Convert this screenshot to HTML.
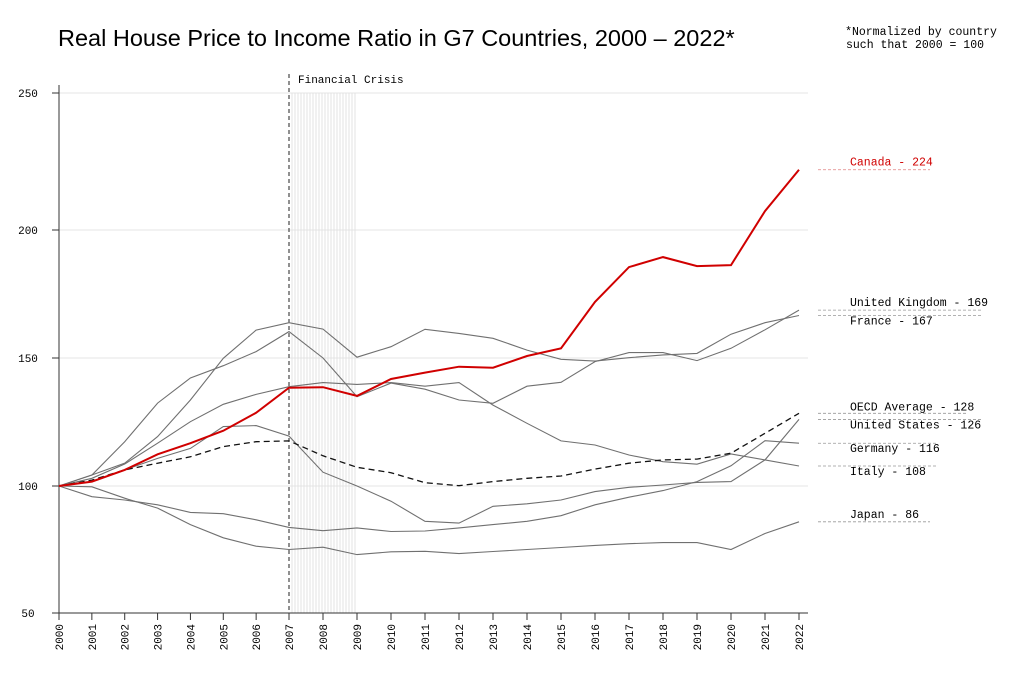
<!DOCTYPE html>
<html><head><meta charset="utf-8"><style>
body{margin:0;background:#fff;}
svg{display:block;font-family:"Liberation Mono",monospace;}
</style></head><body>
<svg id="chart" width="1024" height="689" viewBox="0 0 1024 689" xmlns="http://www.w3.org/2000/svg">
<text x="58" y="46" font-family="Liberation Sans, sans-serif" font-size="23.5" fill="#000">Real House Price to Income Ratio in G7 Countries, 2000 – 2022*</text>
<text x="921" y="35" text-anchor="middle" font-size="11.5" fill="#000">*Normalized by country</text>
<text x="915" y="48" text-anchor="middle" font-size="11.5" fill="#000">such that 2000 = 100</text>
<g id="grid"></g><g id="band"></g><g id="axes"></g><g id="lines"></g><g id="labels"></g>
</svg>
<script>
const years=[2000,2001,2002,2003,2004,2005,2006,2007,2008,2009,2010,2011,2012,2013,2014,2015,2016,2017,2018,2019,2020,2021,2022];
const yTicks=[50,100,150,200,250];
const canada=[100,101.7,106.3,112.4,116.7,121.6,128.6,138.4,138.6,135.2,141.8,144.3,146.6,146.2,150.8,153.8,171.9,185.5,189.4,185.9,186.3,206.9,222];
const uk=[100,104.3,117.3,132.4,142.2,147,152.5,160.3,150,134.9,140.2,137.8,133.6,132.3,139,140.5,148.6,152.1,152.1,149,153.8,161,168.7];
const france=[100,104.3,108.9,119.3,133.6,149.9,160.9,163.8,161.3,150.3,154.4,161.2,159.6,157.7,153.1,149.5,148.8,150.1,151.2,151.8,159.3,163.8,166.6];
const italy=[100,103,108.6,116.7,125.1,131.9,135.8,138.8,140.4,139.7,140.4,139,140.4,131.6,124.5,117.6,116,112.1,109.5,108.5,112.5,110.2,107.8];
const us=[100,101.8,106.3,110.8,114.7,123.2,123.6,119.5,105.4,100,94,86.1,85.4,92,93,94.5,97.8,99.5,100.4,101.4,101.7,110.2,126];
const germany=[100,95.8,94.5,92.6,89.6,89.1,86.7,83.7,82.4,83.5,82.1,82.3,83.5,84.8,86.1,88.3,92.6,95.6,98.2,101.7,107.9,117.7,116.7];
const japan=[100,99.7,95.2,91.3,84.8,79.6,76.3,75,75.9,73,74.1,74.3,73.4,74.2,75,75.8,76.6,77.3,77.7,77.7,75,81.3,85.9];
const oecd=[100,102.3,106.3,108.9,111.4,115.4,117.3,117.6,111.8,107.3,105.2,101.3,100.1,101.7,103,103.9,106.6,108.9,110.2,110.5,112.8,120.6,128.4];
const names=["Canada","United Kingdom","France","OECD Average","United States","Germany","Italy","Japan"];
const labelValues=[224,169,167,128,126,116,108,86];
const NS="http://www.w3.org/2000/svg";
const pyv=[613,486,358,230,93];
const xKnots=[2000,2007,2022],pxKnots=[59,289,799];
function xs(yr){const i=yr<=xKnots[1]?0:1;return pxKnots[i]+(yr-xKnots[i])*(pxKnots[i+1]-pxKnots[i])/(xKnots[i+1]-xKnots[i]);}
function ys(v){for(let i=0;i<yTicks.length-1;i++){if(v<=yTicks[i+1]||i===yTicks.length-2){return pyv[i]+(v-yTicks[i])*(pyv[i+1]-pyv[i])/(yTicks[i+1]-yTicks[i]);}}}
function mk(tag,attrs,parent){const e=document.createElementNS(NS,tag);for(const k in attrs)e.setAttribute(k,attrs[k]);parent.appendChild(e);return e;}
const grid=document.getElementById('grid'),band=document.getElementById('band'),axes=document.getElementById('axes'),lines=document.getElementById('lines'),labels=document.getElementById('labels');
yTicks.forEach(t=>{
 const g=mk('line',{x1:59,x2:808,y1:ys(t),y2:ys(t),stroke:'#e6e6e6','stroke-width':1},grid);
 
 
 const tk=mk('line',{x1:52,x2:59,y1:ys(t),y2:ys(t),stroke:'#333'},axes);
 
 
 const tx=mk('text',{x:28,y:ys(t)+4,'text-anchor':'middle','font-size':11,fill:'#000'},axes);
 
 
 tx.textContent=t;
});
for(let px=xs(2007)+3;px<=xs(2009)+0.5;px+=3){
 const b=mk('line',{x1:px,x2:px,y1:93,y2:613,stroke:'#dcdcdc','stroke-width':0.8},band);
 
 
}
const cl=mk('line',{x1:xs(2007),x2:xs(2007),y1:74,y2:613,stroke:'#222','stroke-dasharray':'4,3'},band);


const ct=mk('text',{x:xs(2007)+9,y:83,'font-size':11,fill:'#000'},band);


ct.textContent='Financial Crisis';
const ya=mk('line',{x1:59,x2:59,y1:85,y2:613,stroke:'#333'},axes);


const xa=mk('line',{x1:52,x2:808,y1:613,y2:613,stroke:'#333'},axes);


years.forEach(yr=>{
 const tk=mk('line',{x1:xs(yr),x2:xs(yr),y1:613,y2:620,stroke:'#333'},axes);
 
 
 const tx=mk('text',{transform:`translate(${xs(yr)+4},624) rotate(-90)`,'text-anchor':'end','font-size':11,fill:'#000'},axes);
 
 
 tx.textContent=yr;
});
function path(arr){return arr.map((v,i)=>(i?'L':'M')+xs(years[i]).toFixed(1)+','+ys(v).toFixed(1)).join(' ');}
const series=[[uk,'uk'],[france,'france'],[italy,'italy'],[us,'united-states'],[germany,'germany'],[japan,'japan']];
series.forEach(([arr,n])=>{
 const p=mk('path',{d:path(arr),fill:'none',stroke:'#707070','stroke-width':1.1},lines);
 
 
});
const po=mk('path',{d:path(oecd),fill:'none',stroke:'#111','stroke-width':1.3,'stroke-dasharray':'6,4'},lines);


const pc=mk('path',{d:path(canada),fill:'none',stroke:'#d00000','stroke-width':2},lines);


const ends=[canada,uk,france,oecd,us,germany,italy,japan];
const offs=[-4,-4,9,-3,9,9,9,-4];
const lens=[112,164,164,150,164,120,120,112];
ends.forEach((arr,i)=>{
 const yv=ys(arr[arr.length-1]);
 const d=mk('line',{x1:818,x2:818+lens[i],y1:yv,y2:yv,stroke:i===0?'#e08080':'#999','stroke-dasharray':'3,2','stroke-width':0.8},labels);
 
 
 const t=mk('text',{x:850,y:yv+offs[i],'font-size':11.5,fill:i===0?'#d00000':'#000'},labels);
 
 
 t.textContent=names[i]+' - '+labelValues[i];
});
</script>
</body></html>
